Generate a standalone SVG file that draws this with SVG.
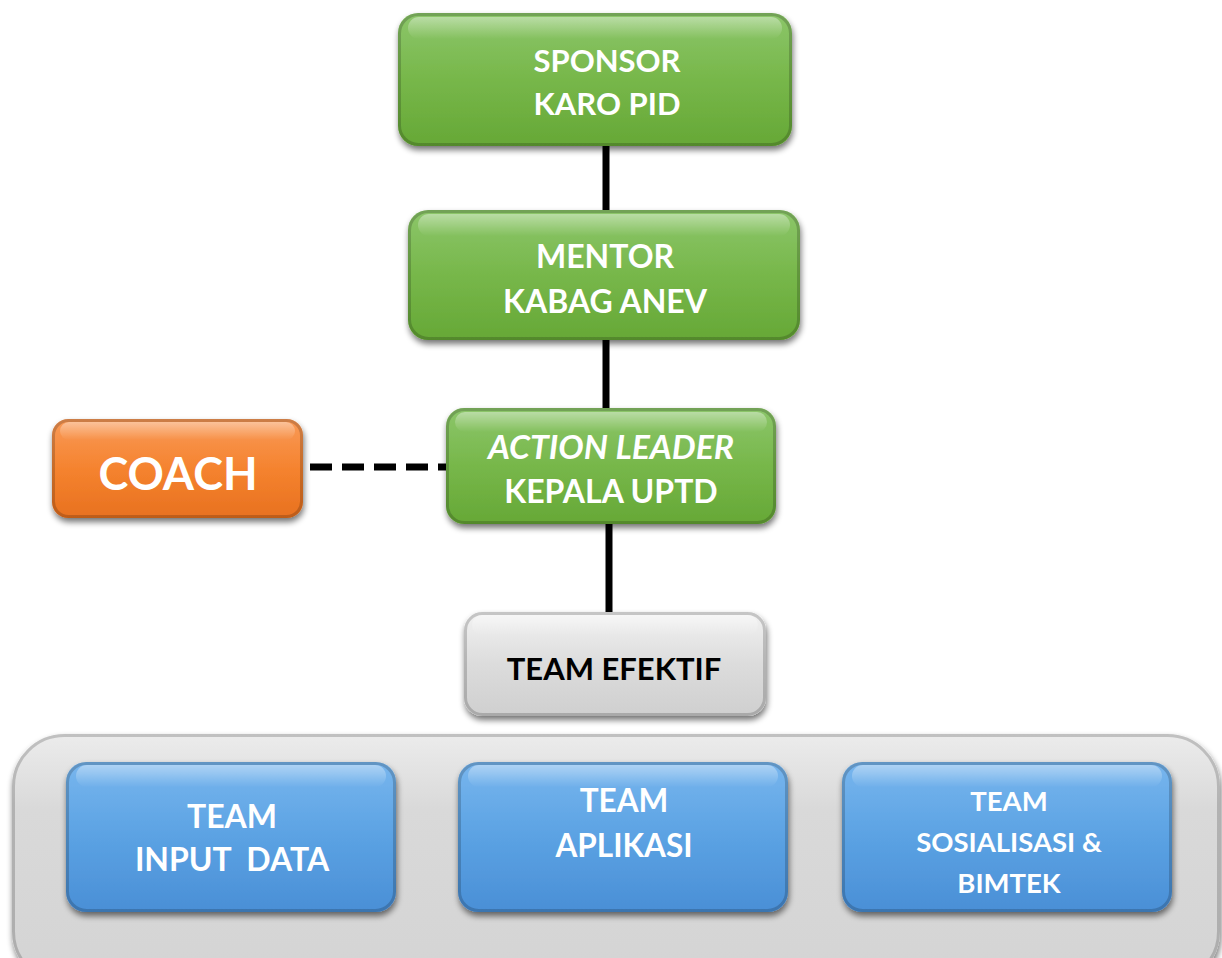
<svg xmlns="http://www.w3.org/2000/svg" width="1222" height="958" viewBox="0 0 1222 958">
  <defs>
    <linearGradient id="gGreen" x1="0" y1="0" x2="0" y2="1">
      <stop offset="0" stop-color="#8cc66a"/>
      <stop offset="0.5" stop-color="#77b74a"/>
      <stop offset="1" stop-color="#66a836"/>
    </linearGradient>
    <linearGradient id="gOrange" x1="0" y1="0" x2="0" y2="1">
      <stop offset="0" stop-color="#f99a58"/>
      <stop offset="0.5" stop-color="#f5832f"/>
      <stop offset="1" stop-color="#e8711f"/>
    </linearGradient>
    <linearGradient id="gGray" x1="0" y1="0" x2="0" y2="1">
      <stop offset="0" stop-color="#f2f2f2"/>
      <stop offset="0.5" stop-color="#dcdcdc"/>
      <stop offset="1" stop-color="#cfcfcf"/>
    </linearGradient>
    <linearGradient id="gPanel" x1="0" y1="0" x2="0" y2="1">
      <stop offset="0" stop-color="#ececec"/>
      <stop offset="0.3" stop-color="#d9d9d9"/>
      <stop offset="1" stop-color="#d4d4d4"/>
    </linearGradient>
    <linearGradient id="gBlue" x1="0" y1="0" x2="0" y2="1">
      <stop offset="0" stop-color="#78b6ee"/>
      <stop offset="0.5" stop-color="#5ba2e3"/>
      <stop offset="1" stop-color="#4a8fd6"/>
    </linearGradient>
    <linearGradient id="gShine" x1="0" y1="0" x2="0" y2="1">
      <stop offset="0" stop-color="#ffffff" stop-opacity="0.4"/>
      <stop offset="1" stop-color="#ffffff" stop-opacity="0"/>
    </linearGradient>
    <filter id="shadow" x="-10%" y="-10%" width="120%" height="130%">
      <feGaussianBlur in="SourceAlpha" stdDeviation="3"/>
      <feOffset dx="1" dy="4" result="b"/>
      <feComponentTransfer><feFuncA type="linear" slope="0.55"/></feComponentTransfer>
      <feMerge><feMergeNode/><feMergeNode in="SourceGraphic"/></feMerge>
    </filter>
    <style>
      .box { filter: url(#shadow); }
      .edge { fill: none; stroke: #000000; stroke-opacity: 0.18; stroke-width: 3; }
      .shine { fill: url(#gShine); }
      .t { font-family: Lato, "Open Sans", "Liberation Sans", sans-serif; font-weight: bold; text-anchor: middle; }
      .w { fill: #ffffff; }
      .k { fill: #000000; }
      .line { stroke: #000000; stroke-width: 7; fill: none; }
      .dash { stroke: #000000; stroke-width: 7; fill: none; stroke-dasharray: 22 10; }
    </style>
  </defs>

  <!-- connectors -->
  <g id="connectors">
    <line class="line" x1="606" y1="144" x2="606" y2="212"/>
    <line class="line" x1="606" y1="338" x2="606" y2="410"/>
    <line class="line" x1="609" y1="522" x2="609" y2="614"/>
    <line class="dash" x1="310" y1="467" x2="448" y2="467"/>
  </g>

  <g id="sponsor">
    <rect class="box" x="398" y="13" width="394" height="133" rx="20" fill="url(#gGreen)"/>
    <rect class="edge" x="399.5" y="14.5" width="391" height="130" rx="19"/>
    <rect class="shine" x="408" y="17" width="374" height="22" rx="11"/>
    <text class="t w" x="607" y="72" font-size="31">SPONSOR</text>
    <text class="t w" x="607" y="115" font-size="31">KARO PID</text>
  </g>

  <g id="mentor">
    <rect class="box" x="408" y="210" width="392" height="130" rx="20" fill="url(#gGreen)"/>
    <rect class="edge" x="409.5" y="211.5" width="389" height="127" rx="19"/>
    <rect class="shine" x="418" y="214" width="372" height="22" rx="11"/>
    <text class="t w" x="605" y="268" font-size="32">MENTOR</text>
    <text class="t w" x="605" y="313" font-size="32">KABAG ANEV</text>
  </g>

  <g id="action-leader">
    <rect class="box" x="446" y="408" width="330" height="116" rx="18" fill="url(#gGreen)"/>
    <rect class="edge" x="447.5" y="409.5" width="327" height="113" rx="17"/>
    <rect class="shine" x="455" y="412" width="312" height="20" rx="10"/>
    <text class="t w" x="611" y="459" font-size="32" font-style="italic" textLength="246" lengthAdjust="spacingAndGlyphs">ACTION LEADER</text>
    <text class="t w" x="611" y="503" font-size="32">KEPALA UPTD</text>
  </g>

  <g id="coach">
    <rect class="box" x="52" y="419" width="251" height="99" rx="16" fill="url(#gOrange)"/>
    <rect class="edge" x="53.5" y="420.5" width="248" height="96" rx="15"/>
    <rect class="shine" x="60" y="422" width="235" height="18" rx="9"/>
    <text class="t w" x="178" y="490" font-size="45">COACH</text>
  </g>

  <g id="team-efektif">
    <rect class="box" x="464" y="612" width="302" height="104" rx="18" fill="url(#gGray)"/>
    <rect class="edge" x="465.5" y="613.5" width="299" height="101" rx="17"/>
    <rect class="shine" x="472" y="615" width="286" height="20" rx="10"/>
    <text class="t k" x="614" y="680" font-size="31">TEAM EFEKTIF</text>
  </g>

  <g id="team-panel">
    <rect class="box" x="12" y="734" width="1208" height="250" rx="52" fill="url(#gPanel)"/>
    <rect class="edge" x="13.5" y="735.5" width="1205" height="247" rx="51"/>
  </g>

  <g id="team-input-data">
    <rect class="box" x="66" y="762" width="330" height="150" rx="20" fill="url(#gBlue)"/>
    <rect class="edge" x="67.5" y="763.5" width="327" height="147" rx="19"/>
    <rect class="shine" x="76" y="765" width="310" height="22" rx="11"/>
    <text class="t w" x="232" y="828" font-size="32">TEAM</text>
    <text class="t w" x="232" y="871" font-size="32" xml:space="preserve">INPUT  DATA</text>
  </g>

  <g id="team-aplikasi">
    <rect class="box" x="458" y="762" width="330" height="150" rx="20" fill="url(#gBlue)"/>
    <rect class="edge" x="459.5" y="763.5" width="327" height="147" rx="19"/>
    <rect class="shine" x="468" y="765" width="310" height="22" rx="11"/>
    <text class="t w" x="624" y="812" font-size="31.5">TEAM</text>
    <text class="t w" x="624" y="857" font-size="31.5">APLIKASI</text>
  </g>

  <g id="team-sosialisasi">
    <rect class="box" x="842" y="762" width="330" height="150" rx="20" fill="url(#gBlue)"/>
    <rect class="edge" x="843.5" y="763.5" width="327" height="147" rx="19"/>
    <rect class="shine" x="852" y="765" width="310" height="22" rx="11"/>
    <text class="t w" x="1009" y="811" font-size="27.5">TEAM</text>
    <text class="t w" x="1009" y="852" font-size="27.5">SOSIALISASI &amp;</text>
    <text class="t w" x="1009" y="893" font-size="27.5">BIMTEK</text>
  </g>
</svg>
